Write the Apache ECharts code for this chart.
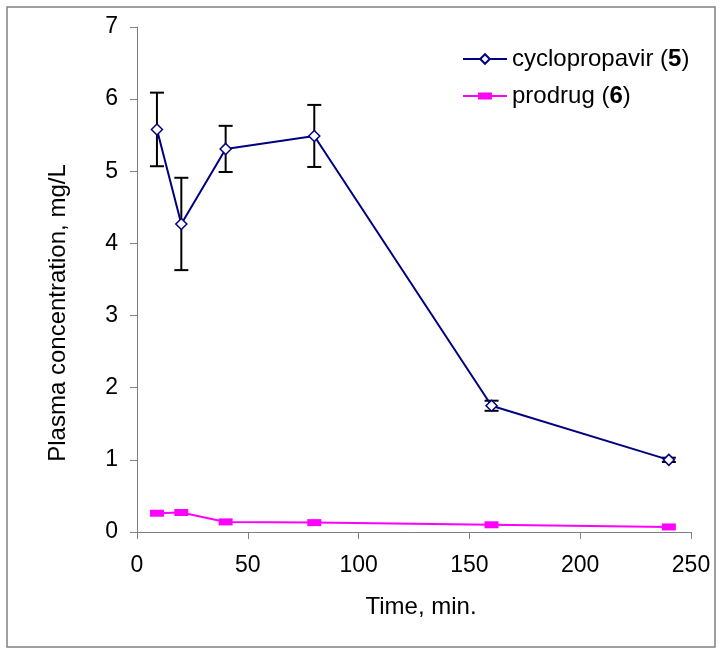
<!DOCTYPE html>
<html><head><meta charset="utf-8">
<script src="https://cdn.jsdelivr.net/npm/echarts@6/dist/echarts.min.js"></script>
<style>html,body{margin:0;padding:0;background:#fff}#c{width:724px;height:655px}</style>
</head><body><div id="c"></div>
<script>
const seriesNames = ['cyclopropavir', 'prodrug'];
const compoundNumbers = ['5', '6'];
const timeMin = [9, 20, 40, 80, 160, 240];
const cyclopropavir = [5.58, 4.27, 5.31, 5.49, 1.75, 1.00];
const cyclopropavirErr = [0.51, 0.64, 0.32, 0.43, 0.07, 0.03];
const prodrug = [0.26, 0.27, 0.14, 0.13, 0.10, 0.07];
const xAxisTitle = 'Time, min.';
const yAxisTitle = 'Plasma concentration, mg/L';

const FONT = '"Liberation Sans", Arial, sans-serif';
const chart = echarts.init(document.getElementById('c'));

const errData = timeMin.map((t, i) => [t, cyclopropavir[i] - cyclopropavirErr[i], cyclopropavir[i] + cyclopropavirErr[i]]);

chart.setOption({
  animation: false,
  backgroundColor: '#fff',
  grid: { left: 137, right: 33, top: 27, bottom: 123 },
  graphic: [{
    type: 'rect', silent: true, z: -10,
    shape: { x: 7, y: 7, width: 708, height: 640 },
    style: { fill: 'none', stroke: '#808080', lineWidth: 1.5 }
  }],
  legend: {
    orient: 'vertical', left: 462, top: 47, padding: 0,
    itemWidth: 44, itemHeight: 12, itemGap: 13,
    data: [
      { name: seriesNames[0] },
      { name: seriesNames[1], icon: 'path://M0,2.5 L15,2.5 L15,0 L29,0 L29,2.5 L44,2.5 L44,4.5 L29,4.5 L29,7 L15,7 L15,4.5 L0,4.5 Z', itemStyle: { color: '#ff00ff', borderWidth: 0 } }
    ],
    formatter: name => {
      const i = seriesNames.indexOf(name);
      return '{a|' + name + ' (}{b|' + compoundNumbers[i] + '}{a|)}';
    },
    textStyle: {
      fontFamily: FONT, fontSize: 24, color: '#000',
      rich: {
        a: { fontFamily: FONT, fontSize: 24, color: '#000' },
        b: { fontFamily: FONT, fontSize: 24, color: '#000', fontWeight: 'bold' }
      }
    }
  },
  xAxis: {
    type: 'value', min: 0, max: 250, interval: 50,
    name: xAxisTitle, nameLocation: 'middle', nameGap: 63,
    nameTextStyle: { fontFamily: FONT, fontSize: 24, color: '#000', padding: [0, 0, 0, 14] },
    axisLine: { show: true, lineStyle: { color: '#808080', width: 1 } },
    axisTick: { show: true, length: 7, lineStyle: { color: '#808080' } },
    axisLabel: { margin: 22, fontFamily: FONT, fontSize: 23, color: '#000' },
    splitLine: { show: false }
  },
  yAxis: {
    type: 'value', min: 0, max: 7, interval: 1,
    name: yAxisTitle, nameLocation: 'middle', nameGap: 67,
    nameTextStyle: { fontFamily: FONT, fontSize: 24, color: '#000', padding: [0, 67, 0, 0] },
    axisLine: { show: true, lineStyle: { color: '#808080', width: 1 } },
    axisTick: { show: true, length: 7, lineStyle: { color: '#808080' } },
    axisLabel: { margin: 19, fontFamily: FONT, fontSize: 23, color: '#000' },
    splitLine: { show: false }
  },
  series: [
    {
      type: 'custom', name: 'error', silent: true, z: 1,
      data: errData,
      encode: { x: 0, y: [1, 2] },
      renderItem: (params, api) => {
        const x = api.value(0);
        const top = api.coord([x, api.value(2)]);
        const bot = api.coord([x, api.value(1)]);
        const w = 7;
        const st = { stroke: '#000', lineWidth: 2 };
        return {
          type: 'group', children: [
            { type: 'line', shape: { x1: top[0], y1: top[1], x2: bot[0], y2: bot[1] }, style: st },
            { type: 'line', shape: { x1: top[0] - w, y1: top[1], x2: top[0] + w, y2: top[1] }, style: st },
            { type: 'line', shape: { x1: bot[0] - w, y1: bot[1], x2: bot[0] + w, y2: bot[1] }, style: st }
          ]
        };
      }
    },
    {
      type: 'line', name: seriesNames[0], z: 3,
      data: timeMin.map((t, i) => [t, cyclopropavir[i]]),
      symbol: 'diamond', symbolSize: 11, showAllSymbol: true,
      lineStyle: { color: '#000080', width: 2 },
      itemStyle: { color: '#ffffff', borderColor: '#000080', borderWidth: 1.5 }
    },
    {
      type: 'line', name: seriesNames[1], z: 3,
      data: timeMin.map((t, i) => [t, prodrug[i]]),
      symbol: 'rect', symbolSize: [14, 7], showAllSymbol: true,
      lineStyle: { color: '#ff00ff', width: 2 },
      itemStyle: { color: '#ff00ff', borderWidth: 0 }
    }
  ]
});
</script>
</body></html>
